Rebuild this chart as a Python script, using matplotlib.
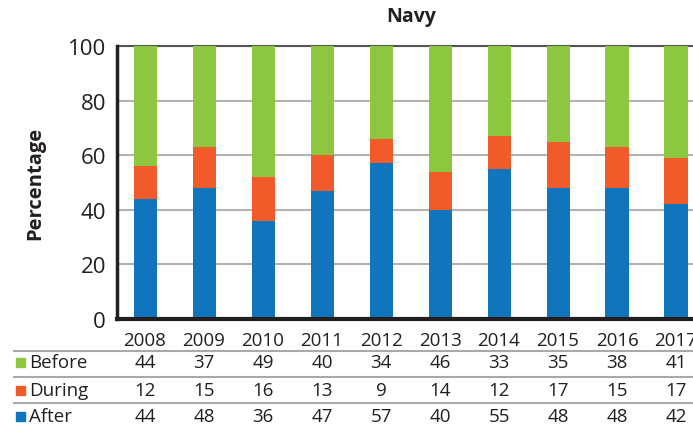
import matplotlib.pyplot as plt
import matplotlib.transforms as mtransforms
from matplotlib.patches import Rectangle
from matplotlib.lines import Line2D

plt.rcParams['font.family'] = ['Open Sans', 'DejaVu Sans']

years = ['2008', '2009', '2010', '2011', '2012', '2013', '2014', '2015', '2016', '2017']
before = [44, 37, 49, 40, 34, 46, 33, 35, 38, 41]
during = [12, 15, 16, 13, 9, 14, 12, 17, 15, 17]
after = [44, 48, 36, 47, 57, 40, 55, 48, 48, 42]

c_before = '#8DC63F'
c_during = '#F15A29'
c_after = '#1075BC'
txt = '#231F20'

W, H = 693, 427
fig = plt.figure(figsize=(W / 100, H / 100), dpi=100)
ax = fig.add_axes([117 / W, 1 - 320 / H, (705.5 - 117) / W, (320 - 47) / H])

x = list(range(len(years)))
bw = 0.39
bottom2 = [a + d for a, d in zip(after, during)]
ax.bar(x, after, bw, color=c_after, zorder=3)
ax.bar(x, during, bw, bottom=after, color=c_during, zorder=3)
ax.bar(x, before, bw, bottom=bottom2, color=c_before, zorder=3)

ax.set_xlim(-0.475, 9.5)
ax.set_ylim(0, 100)
ax.set_yticks([0, 20, 40, 60, 80, 100])
ax.set_xticks([])
ax.tick_params(axis='y', length=0, labelsize=16, pad=8, colors=txt)
ax.yaxis.grid(True, color='#B3B3B3', linewidth=1.5, zorder=0)
ax.spines['right'].set_visible(False)
ax.spines['top'].set_color('#555555')
ax.spines['top'].set_linewidth(1.5)
ax.spines['left'].set_color(txt)
ax.spines['left'].set_linewidth(2.5)
ax.spines['bottom'].set_color(txt)
ax.spines['bottom'].set_linewidth(3)
ax.spines['left'].set_zorder(5)
ax.spines['bottom'].set_zorder(5)
ax.set_ylabel('Percentage', fontsize=14.5, fontweight='bold', labelpad=16, color=txt)

fig.text((117 + 705.5) / 2 / W, 1 - 17 / H, 'Navy', ha='center', va='center',
         fontsize=14, fontweight='bold', color=txt)

# table below the chart
trans = mtransforms.blended_transform_factory(ax.transData, fig.transFigure)
for i, yr in enumerate(years):
    ax.text(i, 1 - 341 / H, yr, transform=trans, ha='center', va='center',
            fontsize=13.5, color=txt, clip_on=False)

rows = [('Before', before, c_before, 363), ('During', during, c_during, 391), ('After', after, c_after, 417)]
for name, vals, col, yy in rows:
    yf = 1 - yy / H
    fig.patches.append(Rectangle((16 / W, yf - 4.5 / H), 9 / W, 9 / H, transform=fig.transFigure,
                                 color=col, figure=fig))
    fig.text(29 / W, yf, name, ha='left', va='center', fontsize=13.5, color=txt)
    for i, v in enumerate(vals):
        ax.text(i, yf, str(v), transform=trans, ha='center', va='center',
                fontsize=13.5, color=txt, clip_on=False)

for yy in [352, 378, 404]:
    fig.lines.append(Line2D([14 / W, 1], [1 - yy / H, 1 - yy / H], transform=fig.transFigure,
                            color='#A7A9AC', linewidth=1.5))

fig.savefig('out.png', dpi=100)
